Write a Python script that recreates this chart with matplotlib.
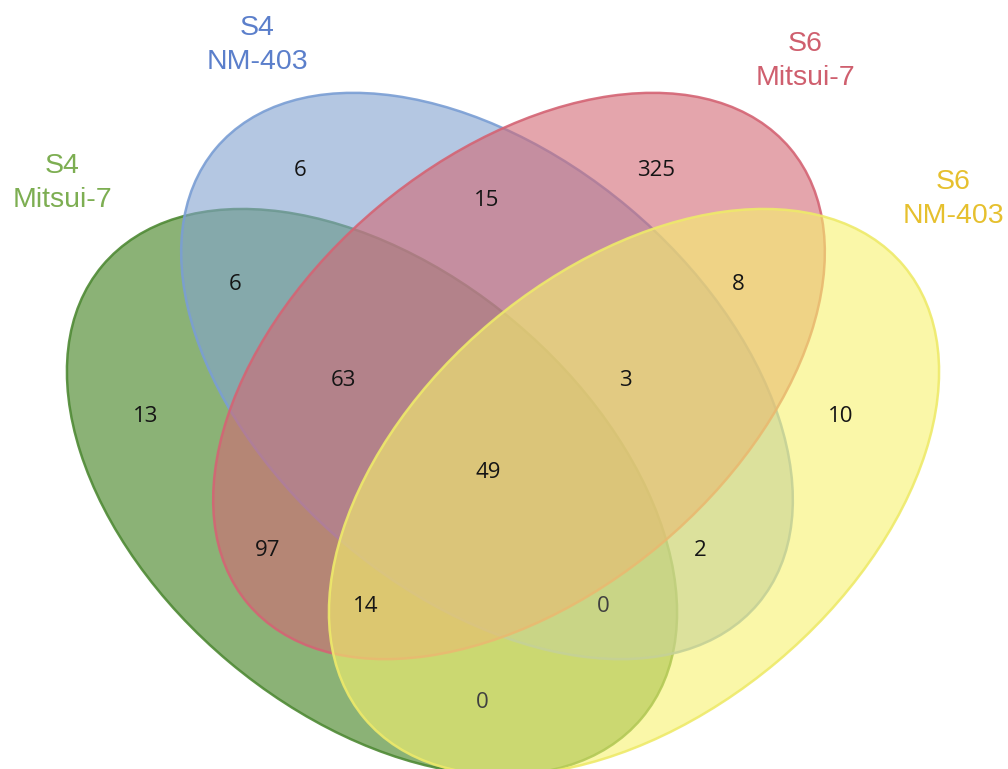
import matplotlib.pyplot as plt
from matplotlib.patches import Ellipse


# sets and their labels
set_names = ["S4\nMitsui-7", "S4\nNM-403", "S6\nMitsui-7", "S6\nNM-403"]

# region counts (G = S4 Mitsui-7, B = S4 NM-403, R = S6 Mitsui-7, Y = S6 NM-403)
regions = ["B", "R", "BR", "GB", "RY", "G", "Y", "GBR", "BRY", "GBRY",
           "GR", "BY", "GRY", "GBY", "GY"]
counts = [6, 325, 15, 6, 8, 13, 10, 63, 3, 49, 97, 2, 14, 0, 0]

# layout (pixel coords, y down)
ellipses = [
    # center, width, height, angle, face, edge
    ((372, 492), 704, 444, 40, "#3E7F1B", "#4F8A35"),
    ((487, 376), 708, 440, 40, "#82A3D0", "#7A9ED4"),
    ((519, 376), 708, 440, -40, "#D26975", "#D46474"),
    ((634, 492), 704, 444, -40, "#F7F36E", "#EEEA6A"),
]
label_pos = [(62, 183), (257, 45), (805, 61), (953, 199)]
label_colors = ["#7DAE52", "#5B7FCB", "#CF5F6E", "#E6C02E"]
count_pos = [(300, 170), (656, 170), (487, 200), (235, 285), (738, 285),
             (146, 416), (841, 416), (343, 380), (625, 381), (488, 473),
             (268, 550), (700, 550), (366, 607), (603, 607), (482, 703)]

fig = plt.figure(figsize=(10.08, 7.69), dpi=100)
ax = fig.add_axes([0, 0, 1, 1])
ax.set_xlim(0, 1008)
ax.set_ylim(769, 0)
ax.set_aspect("equal")
ax.axis("off")

for (c, w, h, ang, fc, ec) in ellipses:
    ax.add_patch(Ellipse(c, w, h, angle=ang, facecolor=fc, alpha=0.6,
                         edgecolor="none"))
    ax.add_patch(Ellipse(c, w, h, angle=ang, facecolor="none",
                         edgecolor=ec, linewidth=1.8, alpha=0.9))

for name, (x, y), col in zip(set_names, label_pos, label_colors):
    ax.text(x, y, name, ha="center", va="center", fontsize=20.5,
            color=col, family="Liberation Sans", linespacing=1.4)

for r, n, (x, y) in zip(regions, counts, count_pos):
    ax.text(x, y, str(n), ha="center", va="center", fontsize=16,
            color="#151515" if n else "#404040", family="Open Sans")

fig.savefig("out.png", dpi=100)
